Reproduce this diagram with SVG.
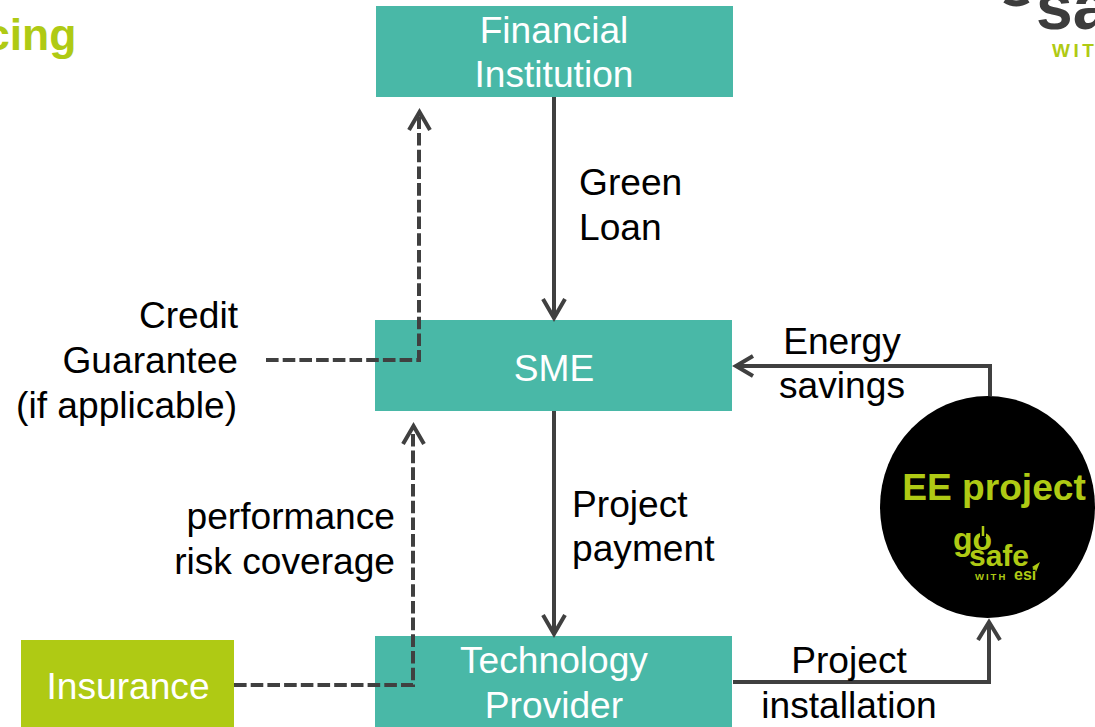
<svg xmlns="http://www.w3.org/2000/svg" width="1095" height="727" viewBox="0 0 1095 727">
<style>
text{font-family:"Liberation Sans",Arial,sans-serif;font-size:37.150px;fill:#000}
.w{fill:#fff;text-anchor:middle}
.m{text-anchor:middle}
.e{text-anchor:end}
.g{fill:#afca14;font-weight:700}
.c{fill:none;stroke:#404040;stroke-width:4}
.d{stroke-dasharray:12.6 4.1}
.t{fill:#afca14;font-weight:700}
</style>
<rect width="1095" height="727" fill="#fff"/>
<text class="g" x="-15" y="50" style="font-size:44.500px">cing</text>
<g id="logo-top">
<text x="1036" y="29" style="font-size:66px;font-weight:700;fill:#3c3c3c">sa</text>
<text class="t" x="1052" y="57" style="font-size:19px;letter-spacing:3.500px">WIT</text>
<path d="M1005 0q11 7 23 0" fill="none" stroke="#3c3c3c" stroke-width="6"/>
</g>
<g id="financial-institution">
<rect x="376" y="6" width="357" height="91" fill="#49b8a7"/>
<text class="w" x="554" y="43">Financial</text>
<text class="w" x="554" y="87">Institution</text>
</g>
<g id="sme">
<rect x="375" y="320" width="357" height="91" fill="#49b8a7"/>
<text class="w" x="554" y="381">SME</text>
</g>
<g id="technology-provider">
<rect x="375" y="636" width="357" height="91" fill="#49b8a7"/>
<text class="w" x="554" y="673">Technology</text>
<text class="w" x="554" y="718">Provider</text>
</g>
<g id="insurance">
<rect x="21" y="640" width="213" height="87" fill="#afca14"/>
<text class="w" x="128" y="699">Insurance</text>
</g>
<g id="ee-project">
<ellipse cx="987.500" cy="507" rx="107.500" ry="111" fill="#000"/>
<text class="g m" x="994" y="500">EE project</text>
<text class="t" x="953" y="550" style="font-size:32px">go</text>
<path d="M983 527V537" stroke="#000" stroke-width="6"/>
<path d="M983 526V536" stroke="#afca14" stroke-width="2.500"/>
<text class="t" x="969" y="566" style="font-size:30px">safe</text>
<text class="t" x="975" y="579.500" style="font-size:9.500px;letter-spacing:2px">WITH</text>
<text class="t" x="1014" y="579.500" style="font-size:16px">esi</text>
<path d="M1040 562L1032 567L1035 569L1036 572Z" fill="#afca14"/>
</g>
<g id="connectors">
<path class="c" d="M554 97V316"/>
<path class="c" d="M543 299L554 318L565 299"/>
<path class="c" d="M554 411V632"/>
<path class="c" d="M543 615L554 634L565 615"/>
<path class="c d" d="M266 360H419V114"/>
<path class="c" d="M409 130L419.500 112L430 130"/>
<path class="c d" d="M234 685H413V430"/>
<path class="c" d="M403 444L413.500 426L424 444"/>
<path class="c" d="M990 396V366H739"/>
<path class="c" d="M753 356L736 366L753 376"/>
<path class="c" d="M733 682H989V626"/>
<path class="c" d="M978 640L989 622L1000 640"/>
</g>
<g id="labels">
<text x="579" y="195">Green</text>
<text x="579" y="240">Loan</text>
<text class="e" x="238" y="328">Credit</text>
<text class="e" x="238" y="373">Guarantee</text>
<text class="e" x="237" y="418">(if applicable)</text>
<text class="e" x="395" y="529">performance</text>
<text class="e" x="395" y="574">risk coverage</text>
<text x="572" y="517">Project</text>
<text x="572" y="561">payment</text>
<text class="m" x="842" y="354">Energy</text>
<text class="m" x="842" y="398">savings</text>
<text class="m" x="849" y="673">Project</text>
<text class="m" x="849" y="718">installation</text>
</g>
</svg>
